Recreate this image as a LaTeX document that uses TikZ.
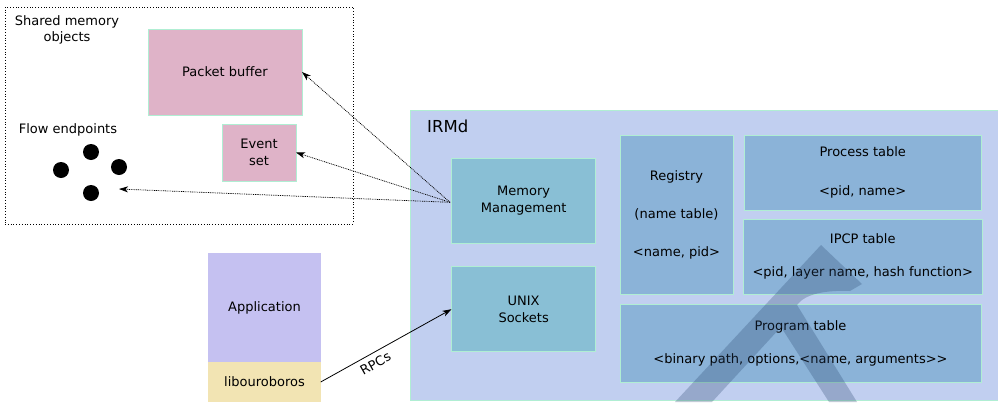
\documentclass[tikz,border=0pt]{standalone}
\usepackage{fontspec}
\setmainfont[Ligatures=NoCommon]{DejaVu Sans}
\usetikzlibrary{arrows.meta}
\definecolor{mint}{HTML}{B0EED3}
\definecolor{pinkfill}{HTML}{DFB3C8}
\definecolor{irmdbg}{HTML}{C1CFF0}
\definecolor{tealfill}{HTML}{89BFD5}
\definecolor{tabfill}{HTML}{8BB3D8}
\definecolor{appfill}{HTML}{C5C1F1}
\definecolor{libfill}{HTML}{F2E4B3}
\definecolor{wmark}{HTML}{28466E}
\begin{document}
\begin{tikzpicture}[x=1pt,y=-1pt,
  txt/.style={font=\fontsize{13}{16.5}\selectfont, align=center, inner sep=0pt},
  box/.style={txt, draw=mint, line width=0.7pt, outer sep=0pt, anchor=north west},
  plain/.style={txt, outer sep=0pt, anchor=north west},
  dotarrow/.style={line width=0.75pt, dash pattern=on 0.9pt off 0.9pt, -{Stealth[length=9pt,width=6pt,inset=2.5pt]}},
  solidarrow/.style={line width=0.8pt, -{Stealth[length=9pt,width=6pt,inset=2.5pt]}},
  blob/.style={circle, fill=black, minimum size=16pt, inner sep=0pt}]
\useasboundingbox (0,0) rectangle (998,402);

% shared memory region
\node[plain, draw=black, line width=0.6pt, dash pattern=on 0.8pt off 2pt, minimum width=348pt, minimum height=217pt] (smo) at (5,7) {};
\node[txt] (smolabel) at (67,30) {Shared memory\\objects};
\node[box, fill=pinkfill, minimum width=154pt, minimum height=86pt] (pb) at (148,29) {Packet buffer};
\node[box, fill=pinkfill, minimum width=74pt, minimum height=57pt] (es) at (222,124) {Event\\set};
\node[txt] (felabel) at (68,130) {Flow endpoints};
\node[blob] (d1) at (91,152) {};
\node[blob] (d2) at (61,170) {};
\node[blob] (d3) at (119,167) {};
\node[blob] (d4) at (91,193) {};
\coordinate (fe) at (119,189);

% IRMd
\node[box, fill=irmdbg, minimum width=590pt, minimum height=290pt] (irmd) at (410,110) {};
\node[txt, font=\fontsize{16.5}{19}\selectfont] (irmdlabel) at (447.7,126.7) {IRMd};
\node[box, fill=tealfill, minimum width=144.3pt, minimum height=85pt] (mm) at (451.5,158.3) {Memory\\Management};
\node[box, fill=tealfill, minimum width=144.3pt, minimum height=85pt] (us) at (451.5,266.7) {UNIX\\Sockets};
\node[box, fill=tabfill, minimum width=113pt, minimum height=159pt] (reg) at (620,135) {Registry\\[21.5pt](name table)\\[21.5pt]<name, pid>};
\node[box, fill=tabfill, minimum width=236.5pt, minimum height=75pt] (proc) at (744.5,135) {Process table\\[22.5pt]<pid, name>};
\node[box, fill=tabfill, minimum width=238.5pt, minimum height=75pt] (ipcp) at (743.5,219) {IPCP table\\[16.5pt]<pid, layer name, hash function>};
\node[box, fill=tabfill, minimum width=361pt, minimum height=78pt] (prog) at (620,304) {Program table\\[16.5pt]<binary path, options,<name, arguments>\kern0pt>};

% application
\node[plain, fill=appfill, minimum width=112.4pt, minimum height=108.7pt] (app) at (208.3,253.3) {Application};
\node[plain, fill=libfill, minimum width=112.4pt, minimum height=40pt] (lib) at (208.3,362) {libouroboros};

% watermark
\fill[wmark, fill opacity=0.28] (675,402) -- (821,245) -- (862,284) -- (850,291)
  .. controls (825,290) and (805,294) .. (797,305) -- (857,402) -- (829,402) -- (781,327) -- (712,402) -- cycle;

% connectors
\draw[dotarrow] ([xshift=-1.5pt,yshift=-1.5pt]mm.west) -- (pb.east);
\draw[dotarrow] ([xshift=-1.5pt,yshift=-1.5pt]mm.west) -- (es.east);
\draw[dotarrow] ([xshift=-1.5pt,yshift=-1.5pt]mm.west) -- (fe);
\draw[solidarrow] (lib.east) -- node[txt, sloped, below=5pt, pos=0.38] (rpc) {RPCs} (us.west);
\end{tikzpicture}
\end{document}
